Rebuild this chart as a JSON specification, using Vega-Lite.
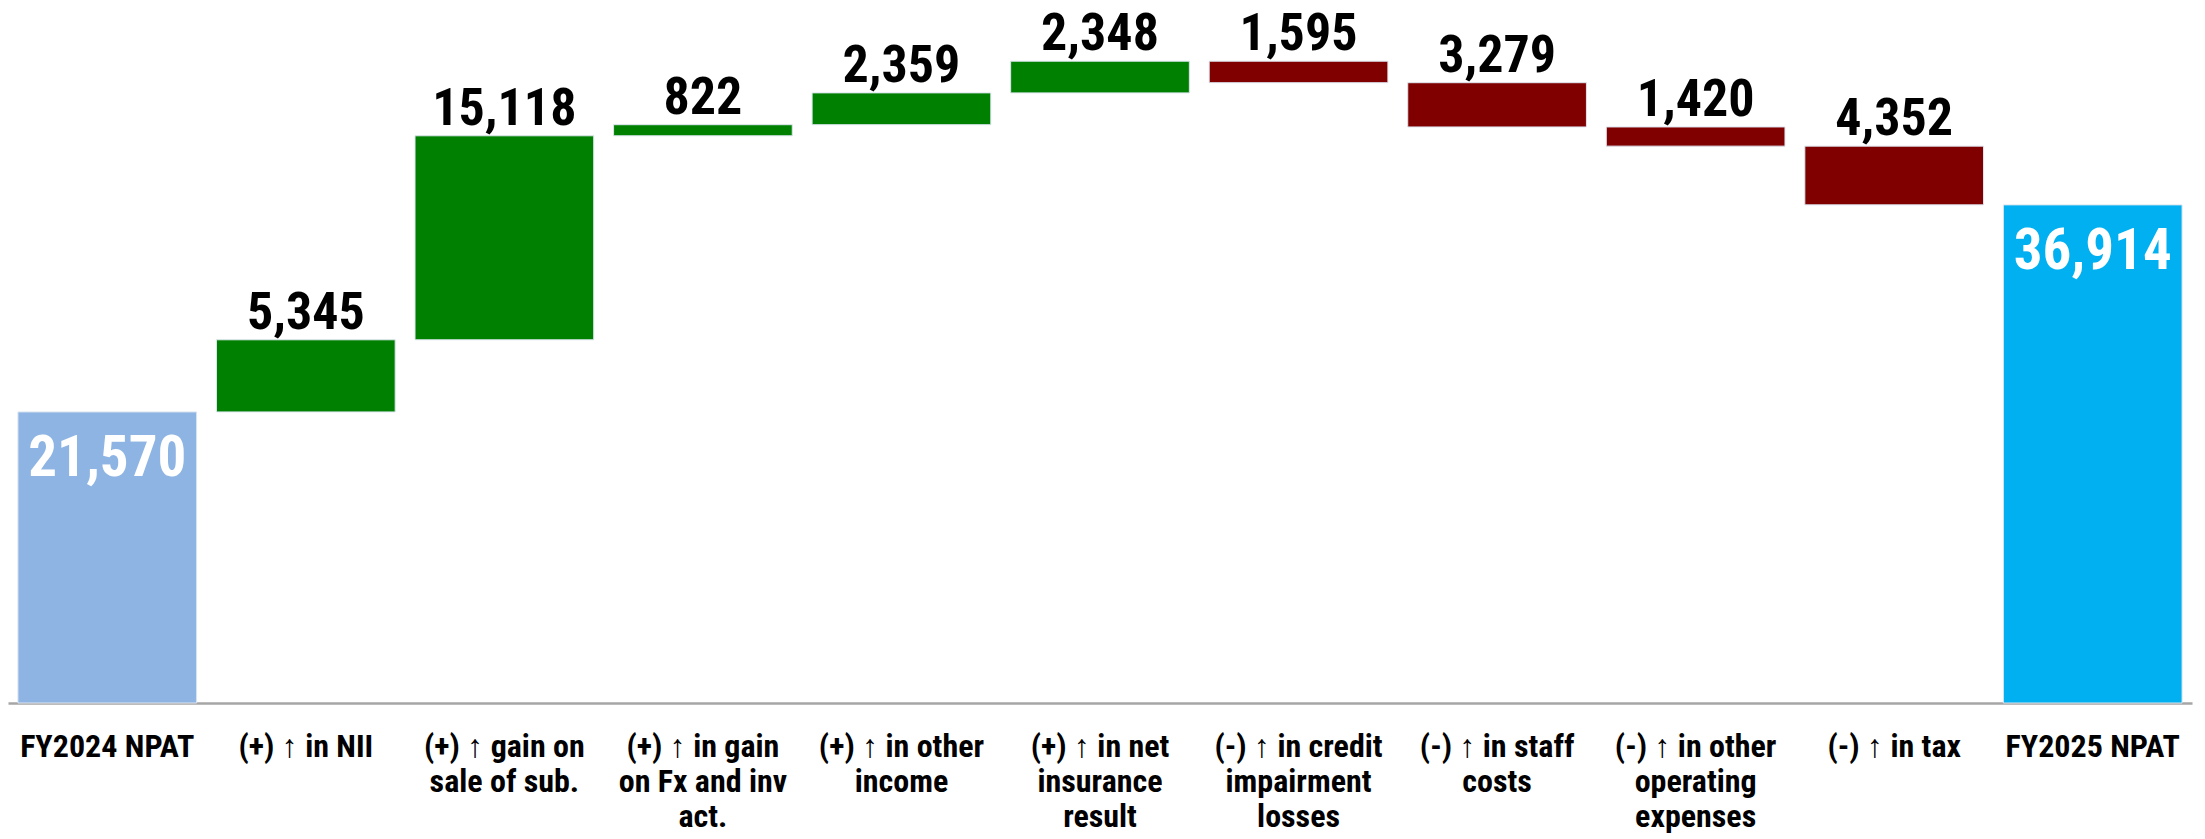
{
  "$schema": "https://vega.github.io/schema/vega-lite/v6.json",
  "width": 2184,
  "height": 695,
  "autosize": {"type": "none"},
  "padding": {"left": 8, "top": 8, "right": 13, "bottom": 136},
  "background": "white",
  "config": {"view": {"stroke": null}},
  "data": {
    "values": [
      {"category": "FY2024 NPAT", "value": 21570, "low": 0, "high": 21570, "type": "start"},
      {"category": "(+) ↑ in NII", "value": 5345, "low": 21570, "high": 26915, "type": "up"},
      {"category": "(+) ↑ gain on|sale of sub.", "value": 15118, "low": 26915, "high": 42033, "type": "up"},
      {"category": "(+) ↑ in gain|on Fx and inv|act.", "value": 822, "low": 42033, "high": 42855, "type": "up"},
      {"category": "(+) ↑ in other|income", "value": 2359, "low": 42855, "high": 45214, "type": "up"},
      {"category": "(+) ↑ in net|insurance|result", "value": 2348, "low": 45214, "high": 47562, "type": "up"},
      {"category": "(-) ↑ in credit|impairment|losses", "value": 1595, "low": 45967, "high": 47562, "type": "down"},
      {"category": "(-) ↑ in staff|costs", "value": 3279, "low": 42688, "high": 45967, "type": "down"},
      {"category": "(-) ↑ in other|operating|expenses", "value": 1420, "low": 41268, "high": 42688, "type": "down"},
      {"category": "(-) ↑ in tax", "value": 4352, "low": 36916, "high": 41268, "type": "down"},
      {"category": "FY2025 NPAT", "value": 36914, "low": 0, "high": 36914, "type": "end"}
    ]
  },
  "encoding": {
    "x": {
      "field": "category",
      "type": "nominal",
      "sort": null,
      "scale": {"paddingInner": 0.1, "paddingOuter": 0.05},
      "axis": {
        "title": null,
        "labelAngle": 0,
        "ticks": false,
        "domainColor": "#A6A6A6",
        "domainWidth": 2.5,
        "labelFont": "Liberation Sans Narrow, Roboto Condensed, Liberation Sans",
        "labelFontSize": 32,
        "labelFontWeight": "bold",
        "labelColor": "#000000",
        "labelLineHeight": 35,
        "labelBaseline": "top",
        "labelPadding": 28,
        "labelLimit": 0,
        "labelOverlap": false,
        "labelExpr": "split(datum.value, '|')"
      }
    },
    "y": {
      "field": "low",
      "type": "quantitative",
      "scale": {"domain": [0, 51504], "nice": false, "zero": true},
      "axis": null
    }
  },
  "layer": [
    {
      "mark": {"type": "bar", "stroke": "#DDE6F0", "strokeWidth": 1},
      "encoding": {
        "y2": {"field": "high"},
        "color": {
          "field": "type",
          "type": "nominal",
          "scale": {"domain": ["start", "up", "down", "end"], "range": ["#8DB4E2", "#008000", "#800000", "#00B0F0"]},
          "legend": null
        }
      }
    },
    {
      "transform": [{"filter": "datum.type == 'up' || datum.type == 'down'"}],
      "mark": {"type": "text", "baseline": "alphabetic", "dy": -11, "fontSize": 52, "fontWeight": "bold", "font": "Liberation Sans Narrow, Roboto Condensed, Liberation Sans", "color": "#000000"},
      "encoding": {
        "y": {"field": "high", "type": "quantitative"},
        "text": {"field": "value", "type": "quantitative", "format": ","}
      }
    },
    {
      "transform": [{"filter": "datum.type == 'start' || datum.type == 'end'"}],
      "mark": {"type": "text", "baseline": "middle", "dy": 47, "fontSize": 57, "fontWeight": "bold", "font": "Liberation Sans Narrow, Roboto Condensed, Liberation Sans", "color": "#FFFFFF"},
      "encoding": {
        "y": {"field": "high", "type": "quantitative"},
        "text": {"field": "value", "type": "quantitative", "format": ","}
      }
    }
  ]
}
